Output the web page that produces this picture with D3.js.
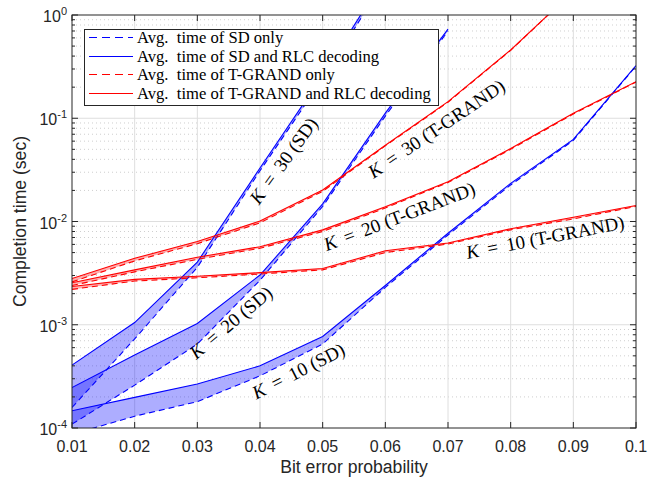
<!DOCTYPE html>
<html lang="en">
<head>
<meta charset="UTF-8">
<title>Completion time vs bit error probability</title>
<script src="https://d3js.org/d3.v7.min.js"></script>
<style>
    body { margin: 0; background: #fff; }
    svg { display: block; }
    .tick-label { font-family: "Liberation Sans", Arial, sans-serif; font-size: 16px; fill: #262626; }
    .serif { font-family: "Liberation Serif", "Times New Roman", serif; fill: #000; }
</style>
</head>
<body>
<div id="chart"></div>
<script>
    // bit error probability
    const pe = [0.01, 0.02, 0.03, 0.04, 0.05, 0.06, 0.07, 0.08, 0.09, 0.1];

    // SD (sec), dashed = SD only, solid = SD + RLC decoding
    const sdOnly10 = [8.7e-5, 1.3e-4, 1.8e-4, 3.2e-4, 6.5e-4, 2.3e-3, 7.4e-3, 0.0226, 0.061, 0.32];
    const sdRlc10  = [1.47e-4, 1.98e-4, 2.67e-4, 4.0e-4, 7.7e-4, 2.4e-3, 7.7e-3, 0.0234, 0.0625, 0.323];
    const sdOnly20 = [1.09e-4, 2.6e-4, 6.5e-4, 2.7e-3, 0.014, 0.105, 0.70];
    const sdRlc20  = [2.46e-4, 5.1e-4, 1.03e-3, 3.03e-3, 0.0148, 0.112, 0.73];
    const sdOnly30 = [1.58e-4, 7.3e-4, 3.6e-3, 0.031, 0.24, 2.2];
    const sdRlc30  = [4.07e-4, 1.05e-3, 4.05e-3, 0.033, 0.26, 2.4];

    // T-GRAND (sec)
    const tgOnly10 = [2.2e-3, 2.65e-3, 2.85e-3, 3.1e-3, 3.4e-3, 5.0e-3, 6.05e-3, 8.3e-3, 0.0106, 0.0140];
    const tgRlc10  = [2.35e-3, 2.75e-3, 2.95e-3, 3.2e-3, 3.5e-3, 5.2e-3, 6.2e-3, 8.5e-3, 0.0110, 0.0143];
    const tgOnly20 = [2.4e-3, 3.25e-3, 4.3e-3, 5.5e-3, 8.0e-3, 0.0135, 0.0238, 0.050, 0.110, 0.224];
    const tgRlc20  = [2.55e-3, 3.4e-3, 4.5e-3, 5.7e-3, 8.3e-3, 0.0139, 0.0243, 0.051, 0.112, 0.226];
    const tgOnly30 = [2.6e-3, 4.15e-3, 6.1e-3, 9.7e-3, 0.0196, 0.054, 0.143, 0.455, 1.7];
    const tgRlc30  = [2.8e-3, 4.4e-3, 6.4e-3, 0.0101, 0.0202, 0.0547, 0.145, 0.458, 1.7];

    const xTicks = [0.01, 0.02, 0.03, 0.04, 0.05, 0.06, 0.07, 0.08, 0.09, 0.1];
    const xTickLabels = ["0.01", "0.02", "0.03", "0.04", "0.05", "0.06", "0.07", "0.08", "0.09", "0.1"];
    const yTicks = [1e-4, 1e-3, 1e-2, 1e-1, 1];
    const yTickExp = ["-4", "-3", "-2", "-1", "0"];

    const legendLabels = [
        "Avg.  time of SD only",
        "Avg.  time of SD and RLC decoding",
        "Avg.  time of T-GRAND only",
        "Avg.  time of T-GRAND and RLC decoding"
    ];

    // curve annotations: [K, decoder, x, y, angle]
    const notes = [
        ["30", "SD", 0.0437, 0.039, -54],
        ["20", "SD", 0.0353, 1.06e-3, -40],
        ["10", "SD", 0.0461, 3.6e-4, -27],
        ["30", "T-GRAND", 0.0681, 0.080, -34],
        ["20", "T-GRAND", 0.0622, 0.0113, -21],
        ["10", "T-GRAND", 0.0855, 7.1e-3, -11]
    ];

    const W = 657, H = 479;
    const m = { left: 72, right: 21, top: 15, bottom: 51 };

    const svg = d3.select("#chart").append("svg")
        .attr("width", W).attr("height", H);

    const x = d3.scaleLinear().domain([0.01, 0.1]).range([m.left, W - m.right]);
    const y = d3.scaleLog().domain([1e-4, 1]).range([H - m.bottom, m.top]);
    const x0 = x.range()[0], x1 = x.range()[1], yb = y.range()[0], yt = y.range()[1];

    // grid
    const minorY = [];
    for (let e = -4; e < 0; e++) for (let k = 2; k <= 9; k++) minorY.push(k * Math.pow(10, e));

    const grid = svg.append("g");
    grid.selectAll(".gy").data(minorY).join("line")
        .attr("x1", x0).attr("x2", x1)
        .attr("y1", d => y(d)).attr("y2", d => y(d))
        .attr("stroke", "#cfcfcf").attr("stroke-dasharray", "1,3");
    grid.selectAll(".gx").data(xTicks.slice(1, -1)).join("line")
        .attr("x1", d => x(d)).attr("x2", d => x(d))
        .attr("y1", yb).attr("y2", yt)
        .attr("stroke", "#dedede");
    grid.selectAll(".gY").data(yTicks.slice(1, -1)).join("line")
        .attr("x1", x0).attr("x2", x1)
        .attr("y1", d => y(d)).attr("y2", d => y(d))
        .attr("stroke", "#dedede");

    svg.append("clipPath").attr("id", "plot")
        .append("rect").attr("x", x0).attr("y", yt).attr("width", x1 - x0).attr("height", yb - yt);

    const plot = svg.append("g").attr("clip-path", "url(#plot)");

    const line = d3.line().x((d, i) => x(pe[i])).y(d => y(d));
    const band = (lo, hi) => d3.area()
        .x((d, i) => x(pe[i]))
        .y0((d, i) => y(lo[i]))
        .y1(d => y(d))(hi);

    const pairs = [
        [sdOnly10, sdRlc10, "#0000ff"],
        [sdOnly20, sdRlc20, "#0000ff"],
        [sdOnly30, sdRlc30, "#0000ff"],
        [tgOnly10, tgRlc10, "#ff0000"],
        [tgOnly20, tgRlc20, "#ff0000"],
        [tgOnly30, tgRlc30, "#ff0000"]
    ];

    pairs.forEach(([lo, hi, c]) => {
        plot.append("path").attr("d", band(lo, hi))
            .attr("fill", c).attr("fill-opacity", 0.32).attr("stroke", "none");
    });
    pairs.forEach(([lo, hi, c]) => {
        plot.append("path").attr("d", line(lo))
            .attr("fill", "none").attr("stroke", c).attr("stroke-width", 1.1)
            .attr("stroke-dasharray", "6,4");
        plot.append("path").attr("d", line(hi))
            .attr("fill", "none").attr("stroke", c).attr("stroke-width", 1.1);
    });

    // axes box and ticks
    const ax = svg.append("g").attr("stroke", "#262626").attr("stroke-width", 1);
    ax.append("rect").attr("x", x0).attr("y", yt).attr("width", x1 - x0).attr("height", yb - yt)
        .attr("fill", "none");
    xTicks.forEach(t => {
        ax.append("line").attr("x1", x(t)).attr("x2", x(t)).attr("y1", yb).attr("y2", yb - 6);
        ax.append("line").attr("x1", x(t)).attr("x2", x(t)).attr("y1", yt).attr("y2", yt + 6);
    });
    yTicks.forEach(t => {
        ax.append("line").attr("x1", x0).attr("x2", x0 + 6).attr("y1", y(t)).attr("y2", y(t));
        ax.append("line").attr("x1", x1).attr("x2", x1 - 6).attr("y1", y(t)).attr("y2", y(t));
    });
    minorY.forEach(t => {
        ax.append("line").attr("x1", x0).attr("x2", x0 + 3).attr("y1", y(t)).attr("y2", y(t));
        ax.append("line").attr("x1", x1).attr("x2", x1 - 3).attr("y1", y(t)).attr("y2", y(t));
    });

    // tick labels
    svg.append("g").selectAll("text").data(xTicks).join("text")
        .attr("class", "tick-label")
        .attr("x", d => x(d)).attr("y", yb + 24)
        .attr("text-anchor", "middle")
        .text((d, i) => xTickLabels[i]);

    const yl = svg.append("g").selectAll("text").data(yTicks).join("text")
        .attr("class", "tick-label")
        .attr("x", x0 - 5).attr("y", d => y(d) + 7)
        .attr("text-anchor", "end");
    yl.append("tspan").text("10");
    yl.append("tspan").attr("dy", -7).style("font-size", "11px").text((d, i) => yTickExp[i]);

    svg.append("text").attr("class", "tick-label")
        .style("font-size", "17.6px")
        .attr("x", (x0 + x1) / 2).attr("y", H - 6)
        .attr("text-anchor", "middle").text("Bit error probability");
    svg.append("text").attr("class", "tick-label")
        .style("font-size", "17.6px")
        .attr("transform", `translate(26,${(yt + yb) / 2}) rotate(-90)`)
        .attr("text-anchor", "middle").text("Completion time (sec)");

    // legend
    const lg = svg.append("g");
    lg.append("rect").attr("x", 84.5).attr("y", 29.5).attr("width", 354).attr("height", 76)
        .attr("fill", "#fff").attr("stroke", "#262626");
    legendLabels.forEach((t, i) => {
        const yy = Math.round(37 + i * 18.5) + 0.5;
        lg.append("line").attr("x1", 89).attr("x2", 133).attr("y1", yy).attr("y2", yy)
            .attr("stroke", i < 2 ? "#0000ff" : "#ff0000").attr("stroke-width", 1.2)
            .attr("stroke-dasharray", i % 2 === 0 ? "8,5" : "none");
        lg.append("text").attr("class", "serif").style("font-size", "16.6px")
            .style("white-space", "pre")
            .attr("x", 137).attr("y", yy).attr("dominant-baseline", "central").text(t);
    });

    // annotations
    notes.forEach(([k, dec, nx, ny, ang]) => {
        const t = svg.append("text").attr("class", "serif").style("font-size", "19px")
            .style("white-space", "pre")
            .attr("text-anchor", "middle").attr("dominant-baseline", "central")
            .attr("transform", `translate(${x(nx)},${y(ny)}) rotate(${ang})`);
        t.append("tspan").style("font-style", "italic").text("K");
        t.append("tspan").text(` \u2009=\u2009 ${k} (${dec})`);
    });
</script>
</body>
</html>
